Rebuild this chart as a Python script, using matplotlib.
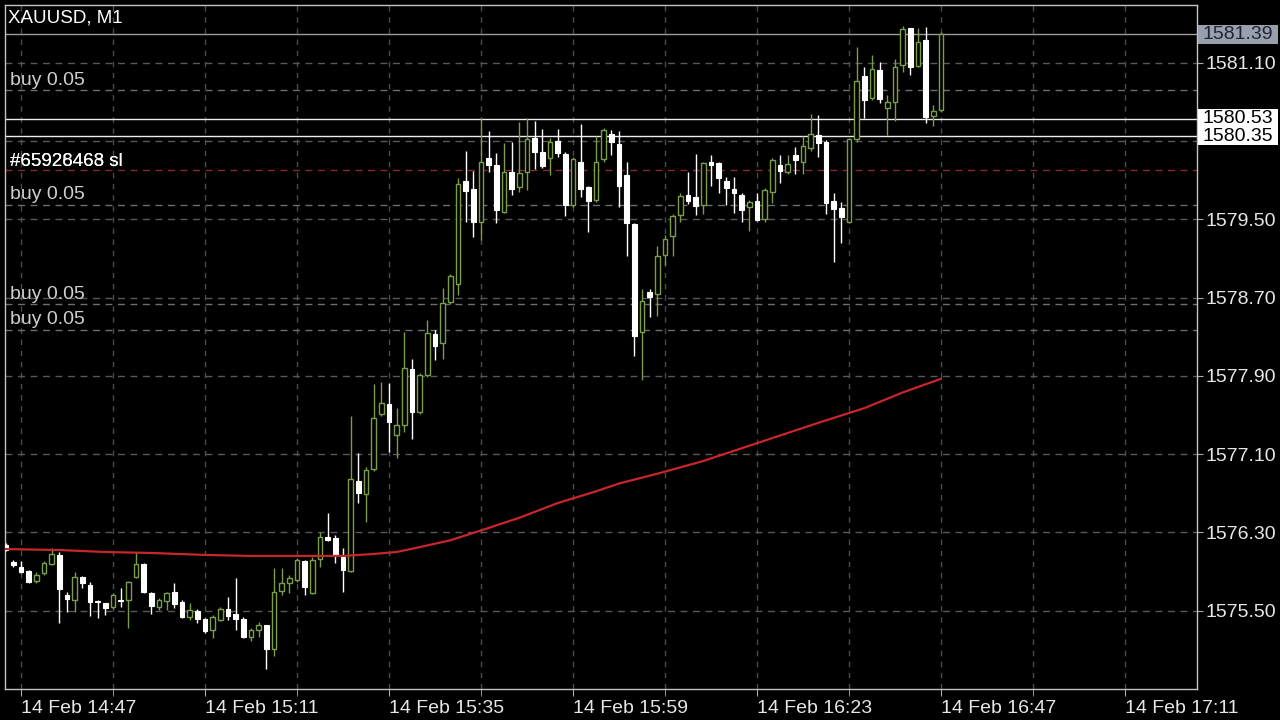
import matplotlib
matplotlib.use("Agg")
import matplotlib.pyplot as plt
from matplotlib.patches import Rectangle

plt.rcParams['font.family'] = ['Liberation Sans', 'DejaVu Sans']

# XAUUSD M1 candles, 14:45 .. 16:47 (one per minute)
opens = [1576.17, 1576.00, 1575.95, 1575.91, 1575.80, 1575.89, 1575.98, 1576.07, 1575.66, 1575.61,
         1575.84, 1575.76, 1575.60, 1575.58, 1575.54, 1575.61, 1575.61, 1575.84, 1575.98, 1575.68,
         1575.54, 1575.60, 1575.69, 1575.59, 1575.44, 1575.50, 1575.42, 1575.30, 1575.41, 1575.52,
         1575.47, 1575.42, 1575.23, 1575.30, 1575.35, 1575.11, 1575.70, 1575.78, 1575.81, 1576.01,
         1575.68, 1576.03, 1576.25, 1576.24, 1576.05, 1575.91, 1576.83, 1576.69, 1576.95, 1577.51,
         1577.61, 1577.30, 1577.40, 1577.97, 1577.53, 1577.91, 1578.33, 1578.24, 1578.65, 1578.84,
         1579.89, 1579.81, 1579.47, 1580.13, 1580.06, 1579.57, 1579.98, 1579.83, 1579.98, 1580.33,
         1580.19, 1580.13, 1580.30, 1580.17, 1579.65, 1580.09, 1579.83, 1579.70, 1580.12, 1580.37,
         1580.27, 1579.95, 1579.45, 1578.35, 1578.76, 1578.74, 1579.14, 1579.33, 1579.54, 1579.75,
         1579.73, 1579.65, 1580.09, 1580.08, 1579.89, 1579.81, 1579.75, 1579.63, 1579.69, 1579.50,
         1579.78, 1580.05, 1579.98, 1580.16, 1580.09, 1580.23, 1580.36, 1580.29, 1579.69, 1579.62,
         1579.47, 1580.32, 1580.96, 1580.74, 1581.03, 1580.64, 1580.70, 1581.08, 1581.45, 1581.07,
         1581.33, 1580.56, 1580.62]
highs = [1576.19, 1576.02, 1576.01, 1575.92, 1575.90, 1576.01, 1576.14, 1576.10, 1575.69, 1575.90,
         1575.85, 1575.79, 1575.61, 1575.58, 1575.68, 1575.73, 1575.80, 1576.10, 1575.99, 1575.69,
         1575.63, 1575.69, 1575.78, 1575.61, 1575.58, 1575.52, 1575.43, 1575.46, 1575.54, 1575.64,
         1575.83, 1575.44, 1575.32, 1575.38, 1575.35, 1575.94, 1575.94, 1575.87, 1576.04, 1576.02,
         1576.05, 1576.30, 1576.50, 1576.27, 1576.14, 1577.49, 1577.11, 1576.97, 1577.82, 1577.84,
         1577.83, 1577.57, 1578.35, 1578.07, 1577.93, 1578.47, 1578.37, 1578.80, 1578.94, 1579.92,
         1580.20, 1579.99, 1580.54, 1580.40, 1580.18, 1580.28, 1580.29, 1580.49, 1580.54, 1580.50,
         1580.42, 1580.33, 1580.42, 1580.19, 1580.14, 1580.47, 1579.84, 1580.35, 1580.43, 1580.41,
         1580.40, 1580.09, 1579.46, 1578.79, 1578.79, 1579.23, 1579.34, 1579.55, 1579.77, 1579.98,
         1580.17, 1580.09, 1580.16, 1580.09, 1579.93, 1579.93, 1579.77, 1579.70, 1579.77, 1579.82,
         1580.13, 1580.16, 1580.16, 1580.24, 1580.35, 1580.58, 1580.57, 1580.31, 1579.77, 1579.68,
         1580.33, 1581.26, 1581.06, 1581.18, 1581.11, 1580.77, 1581.14, 1581.48, 1581.46, 1581.45,
         1581.47, 1580.67, 1581.41]
lows = [1576.11, 1575.95, 1575.89, 1575.78, 1575.78, 1575.87, 1575.97, 1575.37, 1575.49, 1575.49,
        1575.73, 1575.45, 1575.43, 1575.46, 1575.52, 1575.54, 1575.32, 1575.83, 1575.68, 1575.47,
        1575.51, 1575.51, 1575.53, 1575.43, 1575.41, 1575.37, 1575.27, 1575.22, 1575.39, 1575.41,
        1575.30, 1575.22, 1575.19, 1575.23, 1574.90, 1575.04, 1575.66, 1575.68, 1575.79, 1575.66,
        1575.67, 1575.95, 1576.21, 1575.99, 1575.69, 1575.90, 1576.60, 1576.41, 1576.93, 1577.49,
        1577.12, 1577.06, 1577.33, 1577.25, 1577.51, 1577.89, 1578.06, 1578.07, 1578.63, 1578.73,
        1579.47, 1579.32, 1579.29, 1579.98, 1579.46, 1579.56, 1579.75, 1579.78, 1579.80, 1580.01,
        1580.02, 1579.95, 1580.14, 1579.53, 1579.63, 1579.73, 1579.37, 1579.68, 1580.09, 1580.16,
        1579.63, 1579.12, 1578.10, 1577.86, 1578.50, 1578.51, 1579.03, 1579.13, 1579.47, 1579.66,
        1579.54, 1579.55, 1579.84, 1579.77, 1579.65, 1579.56, 1579.47, 1579.38, 1579.48, 1579.47,
        1579.67, 1579.87, 1579.96, 1579.96, 1579.96, 1580.20, 1580.14, 1579.55, 1579.06, 1579.26,
        1579.46, 1580.29, 1580.54, 1580.72, 1580.69, 1580.36, 1580.50, 1581.01, 1580.97, 1581.06,
        1580.48, 1580.45, 1580.60]
closes = [1576.12, 1575.97, 1575.90, 1575.79, 1575.87, 1575.99, 1576.08, 1575.72, 1575.62, 1575.84,
          1575.78, 1575.59, 1575.59, 1575.53, 1575.66, 1575.60, 1575.79, 1575.98, 1575.69, 1575.55,
          1575.61, 1575.68, 1575.57, 1575.44, 1575.51, 1575.42, 1575.29, 1575.44, 1575.52, 1575.45,
          1575.42, 1575.23, 1575.30, 1575.35, 1575.11, 1575.69, 1575.78, 1575.83, 1576.02, 1575.74,
          1576.02, 1576.25, 1576.22, 1576.07, 1575.92, 1576.85, 1576.70, 1576.94, 1577.47, 1577.62,
          1577.43, 1577.40, 1577.98, 1577.53, 1577.91, 1578.34, 1578.21, 1578.64, 1578.92, 1579.86,
          1579.79, 1579.47, 1580.09, 1580.06, 1579.60, 1579.98, 1579.81, 1579.97, 1580.32, 1580.19,
          1580.04, 1580.29, 1580.18, 1579.65, 1580.12, 1579.81, 1579.69, 1580.09, 1580.41, 1580.29,
          1579.84, 1579.46, 1578.31, 1578.66, 1578.71, 1579.12, 1579.30, 1579.53, 1579.74, 1579.69,
          1579.64, 1580.08, 1580.06, 1579.92, 1579.82, 1579.77, 1579.60, 1579.68, 1579.49, 1579.80,
          1580.11, 1579.99, 1580.07, 1580.11, 1580.25, 1580.37, 1580.28, 1579.67, 1579.61, 1579.52,
          1580.32, 1580.91, 1580.72, 1581.04, 1580.73, 1580.70, 1581.06, 1581.44, 1581.06, 1581.31,
          1580.55, 1580.61, 1581.39]

# moving average, read at some bars
ma_bars = [0, 7, 13, 19, 26, 32, 38, 44, 48, 51, 54, 58, 62, 67, 72, 77, 80, 85, 91, 96, 101,
           106, 112, 117, 122]
ma_vals = [1576.13, 1576.12, 1576.10, 1576.09, 1576.07, 1576.06, 1576.06, 1576.06, 1576.08,
           1576.10, 1576.15, 1576.22, 1576.32, 1576.45, 1576.60, 1576.72, 1576.80, 1576.90,
           1577.03, 1577.16, 1577.29, 1577.42, 1577.57, 1577.73, 1577.87]

# price levels
grid_prices = [1581.10, 1580.30, 1579.50, 1578.70, 1577.90, 1577.10, 1576.30, 1575.50]
buy_levels = [1580.82, 1579.65, 1578.63, 1578.37]
sl_level = 1580.00
bid = 1581.39
pos_levels = [1580.53, 1580.35]

time_ticks = [2, 26, 50, 74, 98, 122, 146]
time_labels = ["14 Feb 14:47", "14 Feb 15:11", "14 Feb 15:35", "14 Feb 15:59",
               "14 Feb 16:23", "14 Feb 16:47", "14 Feb 17:11"]
minor_ticks = [14, 38, 62, 86, 110, 134]

bull_col = '#7a9e48'
grid_col = '#585858'
txt_col = '#e6e6e6'

fig = plt.figure(figsize=(12.8, 7.2), dpi=100, facecolor='black')
ax = fig.add_axes([5 / 1280, 31 / 720, 1192 / 1280, 684 / 720], facecolor='black')

# grid (1580.30 label is covered by the position box in the original)
ax.set_yticks(grid_prices)
ax.set_yticklabels(["" if p == 1580.30 else "%.2f" % p for p in grid_prices])
ax.set_xticks(time_ticks)
ax.set_xticklabels(time_labels, ha='left')
ax.set_xticks(minor_ticks, minor=True)
ax.grid(True, axis='y', color=grid_col, linestyle=(0, (5, 4)), linewidth=1)
ax.grid(True, axis='x', which='both', color='#4a4a4a', linestyle=(0, (4, 4)), linewidth=1)
ax.set_axisbelow(True)

# candles
x = list(range(len(opens)))
for i in x:
    o, h, l, c = opens[i], highs[i], lows[i], closes[i]
    if c > o:
        ax.vlines(i, l, h, color=bull_col, linewidth=1, zorder=3)
        ax.bar(i, c - o, bottom=o, width=0.62, facecolor='black', edgecolor=bull_col,
               linewidth=1, zorder=4)
    else:
        ax.vlines(i, l, h, color='white', linewidth=1, zorder=3)
        ax.bar(i, max(o - c, 0.012), bottom=c, width=0.62, facecolor='white',
               edgecolor='white', linewidth=0.8, zorder=4)

# moving average
ax.plot(ma_bars, ma_vals, color='#c8262c', linewidth=1.6, zorder=5)

# order lines
for p in buy_levels:
    ax.axhline(p, color='#6e6e6e', linestyle=(0, (5, 4)), linewidth=1, zorder=2)
    ax.annotate("buy 0.05", xy=(0.0045, p), xycoords=ax.get_yaxis_transform(),
                xytext=(0, 1), textcoords='offset points', va='bottom', ha='left',
                color='#cfcfcf', fontsize=14)
ax.axhline(sl_level, color='#8a2532', linestyle=(0, (5, 4)), linewidth=1, zorder=2)
for t in ["#65926463 sl", "#65928468 sl"]:
    ax.annotate(t, xy=(0.0045, sl_level), xycoords=ax.get_yaxis_transform(),
                xytext=(0, 0), textcoords='offset points', va='bottom', ha='left',
                color='white', fontsize=13.5)

ax.axhline(bid, color='#9c9c9c', linewidth=1, zorder=2)
for p in pos_levels:
    ax.axhline(p, color='#eeeeee', linewidth=1, zorder=2)

ax.set_xlim(-0.1, 155.4)
ax.set_ylim(1574.70, 1581.69)

# axes look
for s in ax.spines.values():
    s.set_color('#c4c4c4')
    s.set_linewidth(1)
ax.yaxis.tick_right()
ax.tick_params(axis='y', colors=txt_col, labelsize=14, length=4, pad=2, color='#aaaaaa')
ax.tick_params(axis='x', which='both', colors=txt_col, labelsize=14, length=5, pad=3,
               color='#aaaaaa')
ax.tick_params(axis='x', which='minor', labelbottom=False)

# price boxes on the right
ytr = ax.get_yaxis_transform()
box_h = 0.19
box_x0 = 1.0008
box_w = (1278 - 1198) / 1192
ax.add_patch(Rectangle((box_x0, bid - box_h / 2), box_w, box_h, transform=ytr,
                       facecolor='#98a0ae', edgecolor='none', clip_on=False, zorder=9))
ax.text(1.005, bid, "%.2f" % bid, transform=ytr, va='center', ha='left', fontsize=14,
        color='#1e2430', clip_on=False, zorder=10)
for p in pos_levels:
    ax.add_patch(Rectangle((box_x0, p - box_h / 2), box_w, box_h, transform=ytr,
                           facecolor='white', edgecolor='none', clip_on=False, zorder=9))
    ax.text(1.005, p, "%.2f" % p, transform=ytr, va='center', ha='left', fontsize=14,
            color='black', clip_on=False, zorder=10)

fig.text(8 / 1280, 1 - 18 / 720, "XAUUSD, M1", color='white', fontsize=13.5, va='center')

fig.savefig("out.png", dpi=100, facecolor='black')
